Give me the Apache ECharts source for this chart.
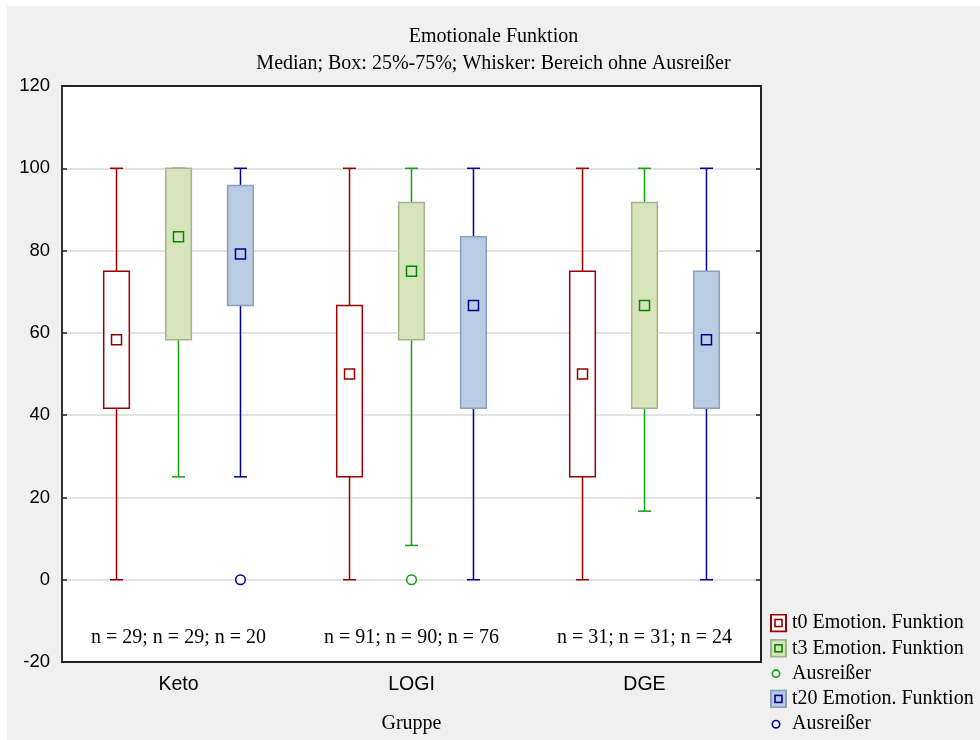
<!DOCTYPE html>
<html>
<head>
<meta charset="utf-8">
<script src="https://cdn.jsdelivr.net/npm/echarts@6/dist/echarts.min.js"></script>
<style>
  html, body { margin: 0; padding: 0; background: #ffffff; }
  #chart { position: absolute; left: 7px; top: 6px; width: 973px; height: 734px; }
</style>
</head>
<body>
<div id="chart"></div>
<script>
// Groups on the category axis
const categories = ['Keto', 'LOGI', 'DGE'];

// Box statistics per group: [min, q1, median, q3, max] (whiskers without outliers)
const t0Stats = [
  [0, 41.67, 58.33, 75, 100],
  [0, 25, 50, 66.67, 100],
  [0, 25, 50, 75, 100]
];
const t3Stats = [
  [25, 58.33, 83.33, 100, 100],
  [8.33, 58.33, 75, 91.67, 100],
  [16.67, 41.67, 66.67, 91.67, 100]
];
const t20Stats = [
  [25, 66.67, 79.17, 95.83, 100],
  [0, 41.67, 66.67, 83.33, 100],
  [0, 41.67, 58.33, 75, 100]
];

// Outliers: [group index, value]
const t3Outliers = [[1, 0]];
const t20Outliers = [[0, 0]];

// Sample sizes per group
const nT0 = [29, 91, 31];
const nT3 = [29, 90, 31];
const nT20 = [20, 76, 24];

// Y axis ticks
const yTicks = { min: -20, max: 120, interval: 20 };

const SERIF = '"Liberation Serif", "Times New Roman", serif';
const SANS = '"Liberation Sans", Arial, sans-serif';

const styles = {
  t0:  { offset: -0.266, fill: '#ffffff', border: '#990000', whisker: '#990000', mark: '#990000' },
  t3:  { offset: 0,      fill: '#d7e3bb', border: '#a3b38e', whisker: '#10a010', mark: '#008a00' },
  t20: { offset: 0.266,  fill: '#b9cce4', border: '#8a9fba', whisker: '#000099', mark: '#00008b' }
};

function boxRenderer(st) {
  return function (params, api) {
    const cat = api.value(0);
    const band = api.size([1, 0])[0];
    const cx = api.coord([cat, 0])[0] + st.offset * band;
    const y = i => api.coord([cat, api.value(i)])[1];
    const yMin = y(1), yQ1 = y(2), yMed = y(3), yQ3 = y(4), yMax = y(5);
    const hb = band * 0.055;
    const hc = band * 0.028;
    const hm = 5;
    const lineStyle = { stroke: st.whisker, lineWidth: 1.5, fill: null };
    return {
      type: 'group',
      children: [
        { type: 'line', shape: { x1: cx, y1: yMax, x2: cx, y2: yQ3 }, style: lineStyle },
        { type: 'line', shape: { x1: cx, y1: yQ1, x2: cx, y2: yMin }, style: lineStyle },
        { type: 'line', shape: { x1: cx - hc, y1: yMax, x2: cx + hc, y2: yMax }, style: lineStyle },
        { type: 'line', shape: { x1: cx - hc, y1: yMin, x2: cx + hc, y2: yMin }, style: lineStyle },
        { type: 'rect', shape: { x: cx - hb, y: yQ3, width: hb * 2, height: yQ1 - yQ3 },
          style: { fill: st.fill, stroke: st.border, lineWidth: 1.5 } },
        { type: 'rect', shape: { x: cx - hm, y: yMed - hm, width: hm * 2, height: hm * 2 },
          style: { fill: st.fill, stroke: st.mark, lineWidth: 1.5 } }
      ]
    };
  };
}

function outlierRenderer(st) {
  return function (params, api) {
    const cat = api.value(0);
    const band = api.size([1, 0])[0];
    const p = api.coord([cat, api.value(1)]);
    return {
      type: 'circle',
      shape: { cx: p[0] + st.offset * band, cy: p[1], r: 4.8 },
      style: { fill: '#ffffff', stroke: st.whisker, lineWidth: 1.5 }
    };
  };
}

function withIndex(stats) {
  return stats.map((s, i) => [i].concat(s));
}

function svgIcon(body) {
  const svg = '<svg xmlns="http://www.w3.org/2000/svg" width="17" height="19" viewBox="0 0 17 19">' + body + '</svg>';
  return 'image://data:image/svg+xml;charset=utf-8,' + encodeURIComponent(svg);
}
function boxIcon(st) {
  return svgIcon(
    '<rect x="1" y="1" width="15" height="17" fill="' + st.fill + '" stroke="' + st.border + '" stroke-width="2"/>' +
    '<rect x="5" y="6" width="7" height="7" fill="' + st.fill + '" stroke="' + st.mark + '" stroke-width="1.6"/>'
  );
}
function circleIcon(st) {
  return svgIcon('<circle cx="6" cy="9.5" r="3.7" fill="#ffffff" stroke="' + st.whisker + '" stroke-width="1.6"/>');
}

const legendLabels = {
  't0 Emotion. Funktion': 't0 Emotion. Funktion',
  't3 Emotion. Funktion': 't3 Emotion. Funktion',
  't3 Ausreißer': 'Ausreißer',
  't20 Emotion. Funktion': 't20 Emotion. Funktion',
  't20 Ausreißer': 'Ausreißer'
};

const chart = echarts.init(document.getElementById('chart'));

chart.setOption({
  backgroundColor: '#f0f0f0',
  animation: false,
  title: {
    text: 'Emotionale Funktion\nMedian; Box: 25%-75%; Whisker: Bereich ohne Ausreißer',
    left: 'center',
    top: 12,
    textStyle: { fontFamily: SERIF, fontSize: 20, fontWeight: 'normal', color: '#000', lineHeight: 27 }
  },
  grid: {
    left: 55, top: 80, right: 219, bottom: 78,
    show: true, backgroundColor: '#ffffff', borderColor: '#000', borderWidth: 0
  },
  legend: {
    orient: 'vertical',
    left: 763,
    top: 607,
    height: 127,
    padding: 0,
    itemWidth: 17,
    itemHeight: 19,
    itemGap: 5.3,
    selectedMode: false,
    formatter: name => legendLabels[name],
    textStyle: { fontFamily: SERIF, fontSize: 20, color: '#000' },
    data: [
      { name: 't0 Emotion. Funktion', icon: boxIcon(styles.t0) },
      { name: 't3 Emotion. Funktion', icon: boxIcon(styles.t3) },
      { name: 't3 Ausreißer', icon: circleIcon(styles.t3) },
      { name: 't20 Emotion. Funktion', icon: boxIcon(styles.t20) },
      { name: 't20 Ausreißer', icon: circleIcon(styles.t20) }
    ]
  },
  xAxis: [
    {
      type: 'category',
      data: categories,
      position: 'bottom',
      axisLine: { onZero: false, lineStyle: { color: '#222', width: 2 } },
      axisTick: { inside: true, alignWithLabel: true, length: 4, lineStyle: { color: '#222', width: 1.5 } },
      axisLabel: { fontFamily: SANS, fontSize: 19.5, color: '#000', margin: 13 },
      splitLine: { show: false },
      name: 'Gruppe',
      nameLocation: 'middle',
      nameGap: 52,
      nameTextStyle: { fontFamily: SERIF, fontSize: 20, color: '#000' }
    },
    {
      type: 'category',
      data: categories,
      position: 'top',
      axisLine: { onZero: false, lineStyle: { color: '#222', width: 2 } },
      axisTick: { inside: true, alignWithLabel: true, length: 4, lineStyle: { color: '#222', width: 1.5 } },
      axisLabel: { show: false },
      splitLine: { show: false }
    }
  ],
  yAxis: [
    {
      type: 'value',
      min: yTicks.min, max: yTicks.max, interval: yTicks.interval,
      position: 'left',
      axisLine: { show: true, onZero: false, lineStyle: { color: '#333', width: 2 } },
      axisTick: { show: true, inside: true, length: 5, lineStyle: { color: '#222', width: 1.5 } },
      axisLabel: { fontFamily: SANS, fontSize: 18.5, color: '#000', margin: 12 },
      splitLine: { show: true, lineStyle: { color: '#d9d9d9', width: 1.5 } }
    },
    {
      type: 'value',
      min: yTicks.min, max: yTicks.max, interval: yTicks.interval,
      position: 'right',
      axisLine: { show: true, onZero: false, lineStyle: { color: '#222', width: 2 } },
      axisTick: { show: true, inside: true, length: 5, lineStyle: { color: '#222', width: 1.5 } },
      axisLabel: { show: false },
      splitLine: { show: false }
    }
  ],
  series: [
    {
      name: 't0 Emotion. Funktion', type: 'custom', xAxisIndex: 0, yAxisIndex: 0,
      renderItem: boxRenderer(styles.t0), data: withIndex(t0Stats), z: 3
    },
    {
      name: 't3 Emotion. Funktion', type: 'custom', xAxisIndex: 0, yAxisIndex: 0,
      renderItem: boxRenderer(styles.t3), data: withIndex(t3Stats), z: 3
    },
    {
      name: 't3 Ausreißer', type: 'custom', xAxisIndex: 0, yAxisIndex: 0,
      renderItem: outlierRenderer(styles.t3), data: t3Outliers, z: 4
    },
    {
      name: 't20 Emotion. Funktion', type: 'custom', xAxisIndex: 0, yAxisIndex: 0,
      renderItem: boxRenderer(styles.t20), data: withIndex(t20Stats), z: 3
    },
    {
      name: 't20 Ausreißer', type: 'custom', xAxisIndex: 0, yAxisIndex: 0,
      renderItem: outlierRenderer(styles.t20), data: t20Outliers, z: 4
    },
    {
      // sample size captions along the bottom of each group
      name: 'n', type: 'custom', xAxisIndex: 0, yAxisIndex: 0, silent: true, z: 4,
      data: categories.map((c, i) => [i, nT0[i], nT3[i], nT20[i]]),
      renderItem: function (params, api) {
        const cat = api.value(0);
        const p = api.coord([cat, yTicks.min]);
        return {
          type: 'text',
          x: p[0],
          y: p[1] - 24,
          style: {
            text: 'n = ' + api.value(1) + '; n = ' + api.value(2) + '; n = ' + api.value(3),
            font: '20px ' + SERIF,
            fill: '#000',
            align: 'center',
            verticalAlign: 'middle'
          }
        };
      }
    }
  ]
});
</script>
</body>
</html>
